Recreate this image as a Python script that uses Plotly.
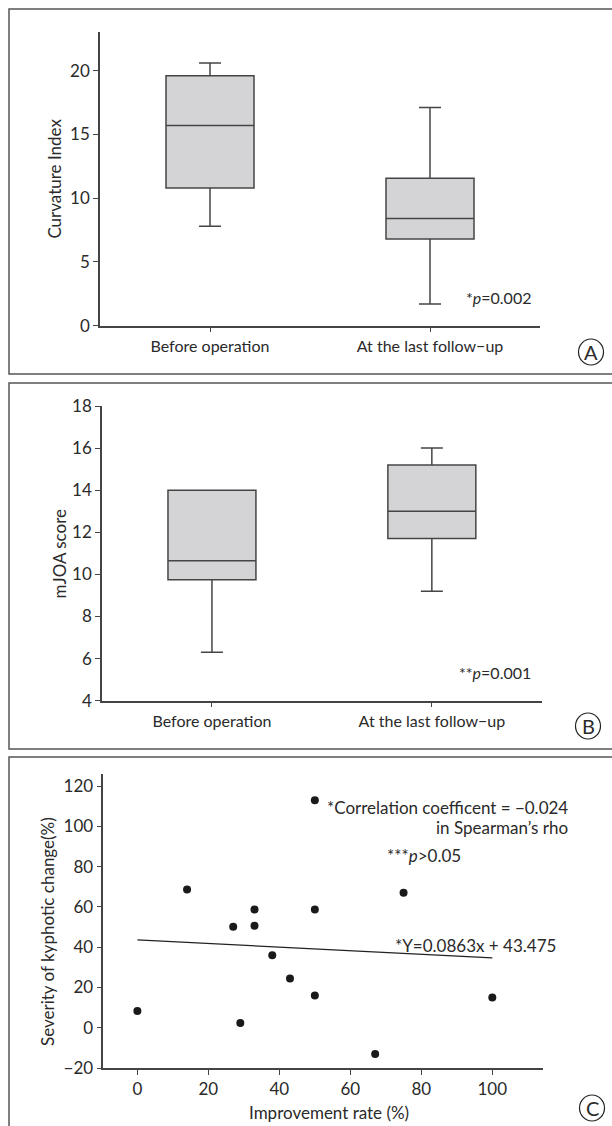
import plotly.graph_objects as go

# ---------------- data ----------------
categories = ["Before operation", "At the last follow\u2212up"]

# Panel A: Curvature index box statistics
curv_low = [7.8, 1.7]
curv_q1 = [10.8, 6.8]
curv_median = [15.7, 8.4]
curv_q3 = [19.6, 11.55]
curv_high = [20.6, 17.1]

# Panel B: mJOA score box statistics
mjoa_low = [6.3, 9.2]
mjoa_q1 = [9.75, 11.7]
mjoa_median = [10.65, 13.0]
mjoa_q3 = [14.0, 15.2]
mjoa_high = [14.0, 16.0]

# Panel C: scatter
improvement_rate = [50, 14, 75, 33, 50, 27, 33, 38, 43, 50, 100, 0, 29, 67]
kyphotic_severity = [113, 68.6, 67, 58.7, 58.7, 50.1, 50.7, 36, 24.4, 16, 15, 8.3, 2.4, -13]
fit_x = [0, 100]
fit_y = [43.6, 34.7]

# ---------------- layout helpers ----------------
W, H = 612, 1126
FONT = "Lato"
TXT = "#2a2a2a"
AX = "#444444"


def px(x):
    return x / W


def py(y):
    return 1 - y / H


fig = go.Figure()

box_style = dict(fillcolor="#d4d4d6", line=dict(color="#454545", width=1.5),
                 boxpoints=False, width=0.4, whiskerwidth=0.25, showlegend=False,
                 hoverinfo="skip")

fig.add_trace(go.Box(x=categories, q1=curv_q1, median=curv_median, q3=curv_q3,
                     lowerfence=curv_low, upperfence=curv_high,
                     xaxis="x", yaxis="y", **box_style))
fig.add_trace(go.Box(x=categories, q1=mjoa_q1, median=mjoa_median, q3=mjoa_q3,
                     lowerfence=mjoa_low, upperfence=mjoa_high,
                     xaxis="x2", yaxis="y2", **box_style))
fig.add_trace(go.Scatter(x=improvement_rate, y=kyphotic_severity, mode="markers",
                         marker=dict(color="#1a1a1a", size=8),
                         xaxis="x3", yaxis="y3", showlegend=False))
fig.add_trace(go.Scatter(x=fit_x, y=fit_y, mode="lines",
                         line=dict(color="#222222", width=1.2),
                         xaxis="x3", yaxis="y3", showlegend=False))

axis_common = dict(showgrid=False, zeroline=False, showline=True, linecolor=AX,
                   linewidth=1.5, ticks="outside", ticklen=5, tickcolor=AX,
                   tickwidth=1.2, automargin=False,
                   tickfont=dict(family=FONT, size=17, color=TXT))
cat_font = dict(family=FONT, size=16, color=TXT)
c_font = dict(family=FONT, size=17, color=TXT)

fig.update_layout(
    width=W, height=H,
    margin=dict(l=0, r=0, t=0, b=0),
    paper_bgcolor="white", plot_bgcolor="white",
    font=dict(family=FONT, color=TXT),
    xaxis=dict(domain=[px(100), px(540)], range=[-0.5, 1.5], type="category",
               anchor="y", **{**axis_common, "tickfont": cat_font}),
    yaxis=dict(domain=[py(325.7), py(32.3)], range=[0, 23],
               tickvals=[0, 5, 10, 15, 20], anchor="x", **axis_common),
    xaxis2=dict(domain=[px(102), px(541.8)], range=[-0.5, 1.5], type="category",
                anchor="y2", **{**axis_common, "tickfont": cat_font}),
    yaxis2=dict(domain=[py(700.7), py(406)], range=[4, 18],
                tickvals=[4, 6, 8, 10, 12, 14, 16, 18], anchor="x2", **axis_common),
    xaxis3=dict(domain=[px(103.3), px(542.7)], range=[-9.6, 114.2],
                tickvals=[0, 20, 40, 60, 80, 100], anchor="y3",
                **{**axis_common, "tickfont": c_font}),
    yaxis3=dict(domain=[py(1068), py(774)], range=[-20, 126],
                tickvals=[-20, 0, 20, 40, 60, 80, 100, 120], anchor="x3",
                **{**axis_common, "tickfont": c_font}),
)

# panel frames
shapes = []
for top, bottom in [(9, 374), (383, 749), (757, 1140)]:
    shapes.append(dict(type="rect", xref="paper", yref="paper",
                       x0=px(9), x1=px(630), y0=py(bottom), y1=py(top),
                       line=dict(color="#555555", width=1.5)))
# circled panel letters
for cx, cy in [(591, 352), (588, 726), (592, 1108)]:
    shapes.append(dict(type="circle", xref="paper", yref="paper",
                       x0=px(cx - 12.5), x1=px(cx + 12.5), y0=py(cy + 13), y1=py(cy - 13),
                       line=dict(color="#222222", width=1.2)))
fig.update_layout(shapes=shapes)

ann = []


def text(x, y, s, size=15, xanchor="center", angle=0, yanchor="middle"):
    ann.append(dict(xref="paper", yref="paper", x=px(x), y=py(y), text=s,
                    showarrow=False, xanchor=xanchor, yanchor=yanchor,
                    textangle=angle, font=dict(family=FONT, size=size, color=TXT)))


# axis titles
text(54.6, 179, "Curvature Index", 17, angle=-90)
text(58.5, 553, "mJOA score", 17, angle=-90)
text(47, 932, "Severity of kyphotic change(%)", 17, angle=-90)
text(328.8, 1112, "Improvement rate (%)", 17)

# statistics
text(533, 297, "*<i>p</i>=0.002", 16, xanchor="right")
text(533, 672, "**<i>p</i>=0.001", 16, xanchor="right")
text(570, 807, "*Correlation coefficent = \u22120.024", 17, xanchor="right")
text(570, 827, "in Spearman\u2019s rho", 17, xanchor="right")
text(384.5, 855, "***<i>p</i>&gt;0.05", 17, xanchor="left")
text(393.4, 945, "*Y=0.0863x + 43.475", 17, xanchor="left")

# panel letters
for lx, ly, s in [(591, 352, "A"), (588, 726, "B"), (592, 1108, "C")]:
    text(lx, ly, s, 20)

fig.update_layout(annotations=ann)

fig.write_html("out.html", config={"displayModeBar": False},
               post_script="document.body.style.margin='0';document.body.style.overflow='hidden';")
